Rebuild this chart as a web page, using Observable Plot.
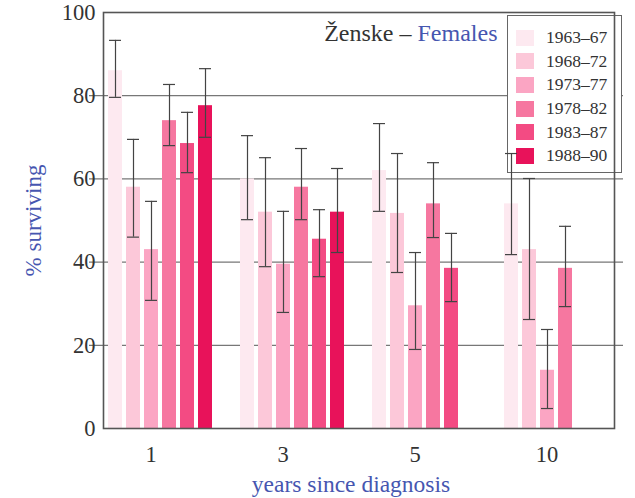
<!DOCTYPE html>
<html>
<head>
<meta charset="utf-8">
<script src="https://cdn.jsdelivr.net/npm/d3@7"></script>
<script src="https://cdn.jsdelivr.net/npm/@observablehq/plot@0.6"></script>
<style>
  body { margin: 0; background: #fff; }
  #chart { position: relative; width: 635px; height: 498px; }
  #chart svg { display: block; position: absolute; left: 0; top: 0; }
  .legend {
    position: absolute; left: 507px; top: 15px; width: 115px; height: 158px;
    box-sizing: border-box; border: 1.5px solid #666; background: #fff;
    padding: 10px 0 0 8px; font-family: "Liberation Serif", serif; font-size: 17.5px; color: #333;
  }
  .legend .row { display: flex; align-items: center; height: 23.6px; }
  .legend .sw { width: 18px; height: 16px; margin-right: 12px; }
</style>
</head>
<body>
<div id="chart"></div>
<script>
// Years since diagnosis (facet groups) and diagnosis periods (series)
const years = ["1", "3", "5", "10"];
const periods = ["1963–67", "1968–72", "1973–77", "1978–82", "1983–87", "1988–90"];
const periodColors = ["#fde9f0", "#fcc8d9", "#fba5c3", "#f677a0", "#f34b83", "#e8125a"];

// % surviving per period, one value per year group (null = not observed)
const surv6367 = [86, 60, 62, 54];
const surv6872 = [58, 52, 51.7, 43];
const surv7377 = [43, 39.5, 29.5, 14];
const surv7882 = [74, 58, 54, 38.5];
const surv8387 = [68.5, 45.5, 38.5, null];
const surv8890 = [77.6, 52, null, null];

// Lower and upper confidence limits
const low6367 = [79.6, 50.2, 52.2, 41.8];
const low6872 = [46, 38.9, 37.5, 26.2];
const low7377 = [30.8, 27.9, 19, 4.8];
const low7882 = [68, 50.2, 45.9, 29.3];
const low8387 = [61.5, 36.5, 30.5, null];
const low8890 = [70, 42.3, null, null];

const high6367 = [93.3, 70.4, 73.3, 66.1];
const high6872 = [69.5, 65.1, 66.1, 60.1];
const high7377 = [54.6, 52.2, 42.3, 23.8];
const high7882 = [82.7, 67.3, 63.9, 48.6];
const high8387 = [76, 52.6, 46.9, null];
const high8890 = [86.5, 62.5, null, null];

const yTicks = [0, 20, 40, 60, 80, 100];
const gridValues = [20, 40, 60, 80];

const survival = [surv6367, surv6872, surv7377, surv7882, surv8387, surv8890];
const lows = [low6367, low6872, low7377, low7882, low8387, low8890];
const highs = [high6367, high6872, high7377, high7882, high8387, high8890];

const rows = [];
periods.forEach((period, i) => {
  years.forEach((year, j) => {
    if (survival[i][j] != null) {
      rows.push({year, period, value: survival[i][j], lo: lows[i][j], hi: highs[i][j]});
    }
  });
});

const blue = "#4656b0";
const ink = "#333";
const serif = "'Liberation Serif', serif";

const layout = {
  width: 635,
  height: 498,
  marginLeft: 89,
  marginRight: 12,
  marginTop: 12,
  marginBottom: 70
};

// Horizontal gridlines spanning the whole frame, drawn underneath everything
const grid = Plot.plot({
  ...layout,
  style: {background: "transparent"},
  x: {axis: null},
  y: {domain: [0, 100], axis: null},
  marks: [
    Plot.ruleY(gridValues, {stroke: "#777", strokeWidth: 1.3})
  ]
});

// Bars with confidence intervals, grouped by years since diagnosis
const plot = Plot.plot({
  ...layout,
  style: {fontFamily: serif, fontSize: "22px", color: ink, background: "transparent"},
  fx: {domain: years, paddingInner: 0.13, paddingOuter: 0.08, align: 0.6, axis: null},
  x: {domain: periods, padding: 0.2, axis: null},
  y: {domain: [0, 100], axis: null},
  color: {domain: periods, range: periodColors},
  marks: [
    Plot.barY(rows, {fx: "year", x: "period", y: "value", fill: "period"}),
    Plot.ruleX(rows, {fx: "year", x: "period", y1: "lo", y2: "hi", stroke: "#444", strokeWidth: 1.2}),
    Plot.tickY(rows, {fx: "year", x: "period", y: "lo", stroke: "#444", strokeWidth: 1.2, inset: 1}),
    Plot.tickY(rows, {fx: "year", x: "period", y: "hi", stroke: "#444", strokeWidth: 1.2, inset: 1}),
    Plot.frame({facet: "super", stroke: "#555", strokeWidth: 1.6}),
    Plot.axisY({ticks: yTicks, tickSize: 0, tickPadding: 8, label: null, fontSize: 22.5, fontFamily: serif}),
    Plot.axisFx({anchor: "bottom", tickSize: 0, tickPadding: 18, label: null, dx: -10, fontSize: 22.5, fontFamily: serif}),
    Plot.text(["% surviving"], {facet: "super", frameAnchor: "left", textAnchor: "middle", lineAnchor: "middle", rotate: -90, dx: -70, fill: blue, fontSize: 23}),
    Plot.text(["years since diagnosis"], {facet: "super", frameAnchor: "bottom", textAnchor: "middle", lineAnchor: "middle", dx: -8, dy: 56, fill: blue, fontSize: 23.5}),
    Plot.text(["Ženske –"], {facet: "super", frameAnchor: "top-left", dx: 308, dy: 21, textAnchor: "end", lineAnchor: "middle", fill: ink, fontSize: 24}),
    Plot.text(["Females"], {facet: "super", frameAnchor: "top-left", dx: 314, dy: 21, textAnchor: "start", lineAnchor: "middle", fill: blue, fontSize: 24})
  ]
});

// Period legend built from the plot's color scale; it sits between the
// gridlines and the bars so the error bars stay visible on top of it
const color = plot.scale("color");
const legend = document.createElement("div");
legend.className = "legend";
periods.forEach(p => {
  const row = document.createElement("div");
  row.className = "row";
  const sw = document.createElement("span");
  sw.className = "sw";
  sw.style.background = color.apply(p);
  const label = document.createElement("span");
  label.textContent = p;
  row.appendChild(sw);
  row.appendChild(label);
  legend.appendChild(row);
});

const chart = document.getElementById("chart");
chart.appendChild(grid);
chart.appendChild(legend);
chart.appendChild(plot);
</script>
</body>
</html>
